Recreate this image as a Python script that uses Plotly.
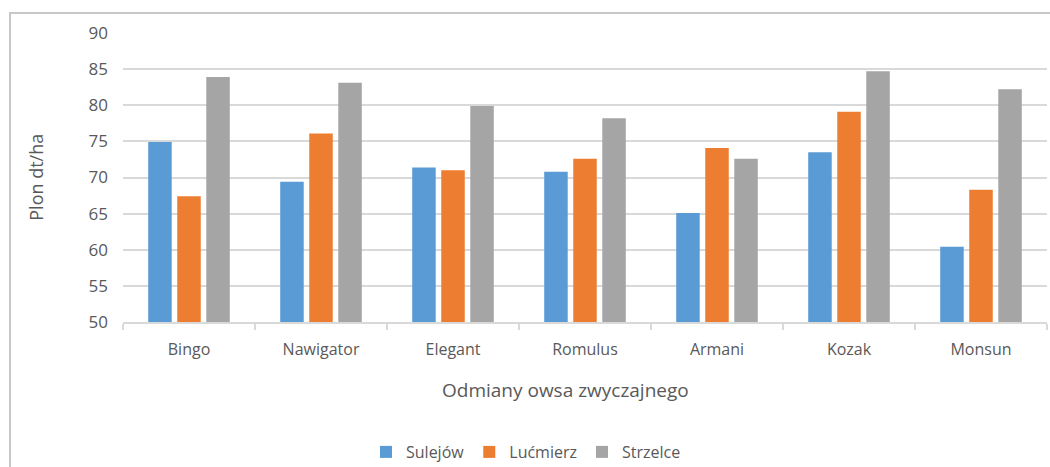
import plotly.graph_objects as go

categories = ["Bingo", "Nawigator", "Elegant", "Romulus", "Armani", "Kozak", "Monsun"]
sulejow = [74.9, 69.4, 71.4, 70.8, 65.1, 73.5, 60.4]
lucmierz = [67.4, 76.1, 71.0, 72.6, 74.1, 79.1, 68.3]
strzelce = [83.9, 83.1, 79.9, 78.2, 72.6, 84.7, 82.2]
series_names = ["Sulejów", "Lućmierz", "Strzelce"]
colors = ["#5B9BD5", "#ED7D31", "#A5A5A5"]

FONT = "Open Sans"
TXT = "#595959"

fig = go.Figure()
for name, vals, col in zip(series_names, [sulejow, lucmierz, strzelce], colors):
    fig.add_trace(go.Bar(x=categories, y=vals, name=name, marker_color=col,
                         marker_line_width=0))

fig.update_layout(
    width=1050, height=467,
    margin=dict(l=123, r=3, t=33, b=145, autoexpand=False),
    paper_bgcolor="white", plot_bgcolor="white",
    barmode="group", bargap=0.34, bargroupgap=0.19,
    font=dict(family=FONT, color=TXT, size=16),
    showlegend=True,
    legend=dict(orientation="h", x=526 / 1050, xref="container", xanchor="center",
                y=15 / 467, yref="container", yanchor="middle",
                font=dict(size=16, color=TXT), itemwidth=30, traceorder="normal"),
    shapes=[dict(type="rect", xref="paper", yref="paper", x0=-0.1223, x1=1.02,
                 y0=-0.52, y1=1.069, line=dict(color="#c8c8c8", width=2),
                 fillcolor="rgba(0,0,0,0)", layer="below")],
    annotations=[
        dict(text="Plon dt/ha", xref="paper", yref="paper", x=-0.095, y=0.5,
             textangle=-90, showarrow=False, font=dict(size=18, color=TXT),
             xanchor="center", yanchor="middle"),
        dict(text="Odmiany owsa zwyczajnego", xref="paper", yref="paper", x=0.479, y=-0.235,
             showarrow=False, font=dict(size=19, color=TXT),
             xanchor="center", yanchor="middle"),
    ],
)
fig.update_yaxes(range=[50, 90], dtick=5, showgrid=True, gridcolor="#d9d9d9", gridwidth=1.5,
                 zeroline=False, showline=False, ticks="", ticklabelstandoff=14,
                 automargin=False, tickfont=dict(size=17, color=TXT))
fig.update_xaxes(showline=True, linecolor="#d9d9d9", linewidth=1.5, ticks="outside",
                 tickson="boundaries", ticklen=6, tickcolor="#d9d9d9", tickwidth=1.5,
                 ticklabelstandoff=12, automargin=False, tickfont=dict(size=16, color=TXT))

fig.write_html("out.html", config={"displayModeBar": False},
               post_script="document.body.style.margin='0';")
